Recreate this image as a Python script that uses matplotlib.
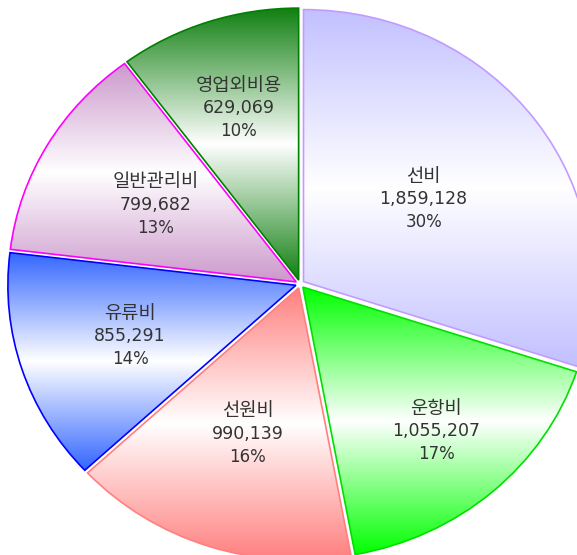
import numpy as np
import matplotlib
matplotlib.use("Agg")
import matplotlib.pyplot as plt
from matplotlib.colors import to_rgb

plt.rcParams['font.family'] = ['DejaVu Sans', 'Noto Sans CJK KR']

categories = ['선비', '운항비', '선원비', '유류비', '일반관리비', '영업외비용']
values = [1859128, 1055207, 990139, 855291, 799682, 629069]
percent_labels = ['30%', '17%', '16%', '14%', '13%', '10%']

fill_colors = ['#C2C0FF', '#00FF00', '#FF7F7F', '#3366FF', '#CC99CC', '#128012']
edge_colors = ['#C39BFF', '#00E000', '#FF7F7F', '#0000FF', '#FF00FF', '#008000']
label_dist = [0.53, 0.72, 0.58, 0.62, 0.58, 0.68]

W, H = 577, 555
fig = plt.figure(figsize=(W / 100, H / 100), dpi=100)
ax = fig.add_axes([0, 0, 1, 1])
ax.set_axis_off()

wedges, _ = ax.pie(values, startangle=90, counterclock=False,
                   explode=[0.015] * len(values),
                   wedgeprops=dict(linewidth=1.2))

grad = np.linspace(0, 1, 256)
t = np.abs(2 * grad - 1)[:, None]
for w, fc, ec in zip(wedges, fill_colors, edge_colors):
    w.set_facecolor('none')
    w.set_edgecolor(ec)
    w.set_zorder(3)
    ext = w.get_path().get_extents()
    base = np.array(to_rgb(fc))
    img = (1 - t) * np.ones(3) + t * base
    img = img[:, None, :]
    im = ax.imshow(img, extent=[ext.x0, ext.x1, ext.y0, ext.y1],
                   origin='lower', aspect='auto', zorder=2,
                   interpolation='bilinear')
    im.set_clip_path(w)

for w, cat, v, p, d in zip(wedges, categories, values, percent_labels, label_dist):
    ang = np.deg2rad((w.theta1 + w.theta2) / 2)
    x, y = d * np.cos(ang), d * np.sin(ang)
    ax.annotate(cat, (x, y), xytext=(0, 16.5), textcoords='offset points',
                ha='center', va='center', fontsize=13.5, color='#333333', zorder=5)
    ax.annotate(f"{v:,}", (x, y), xytext=(0, 0), textcoords='offset points',
                ha='center', va='center', fontsize=12.5, color='#333333', zorder=5)
    ax.annotate(p, (x, y), xytext=(0, -16.5), textcoords='offset points',
                ha='center', va='center', fontsize=12, color='#333333', zorder=5)

ax.set_aspect('auto')
ax.set_xlim(-300 / 288, 277 / 288)
ax.set_ylim(-271 / 272, 284 / 272)

fig.savefig('out.png', dpi=100)
